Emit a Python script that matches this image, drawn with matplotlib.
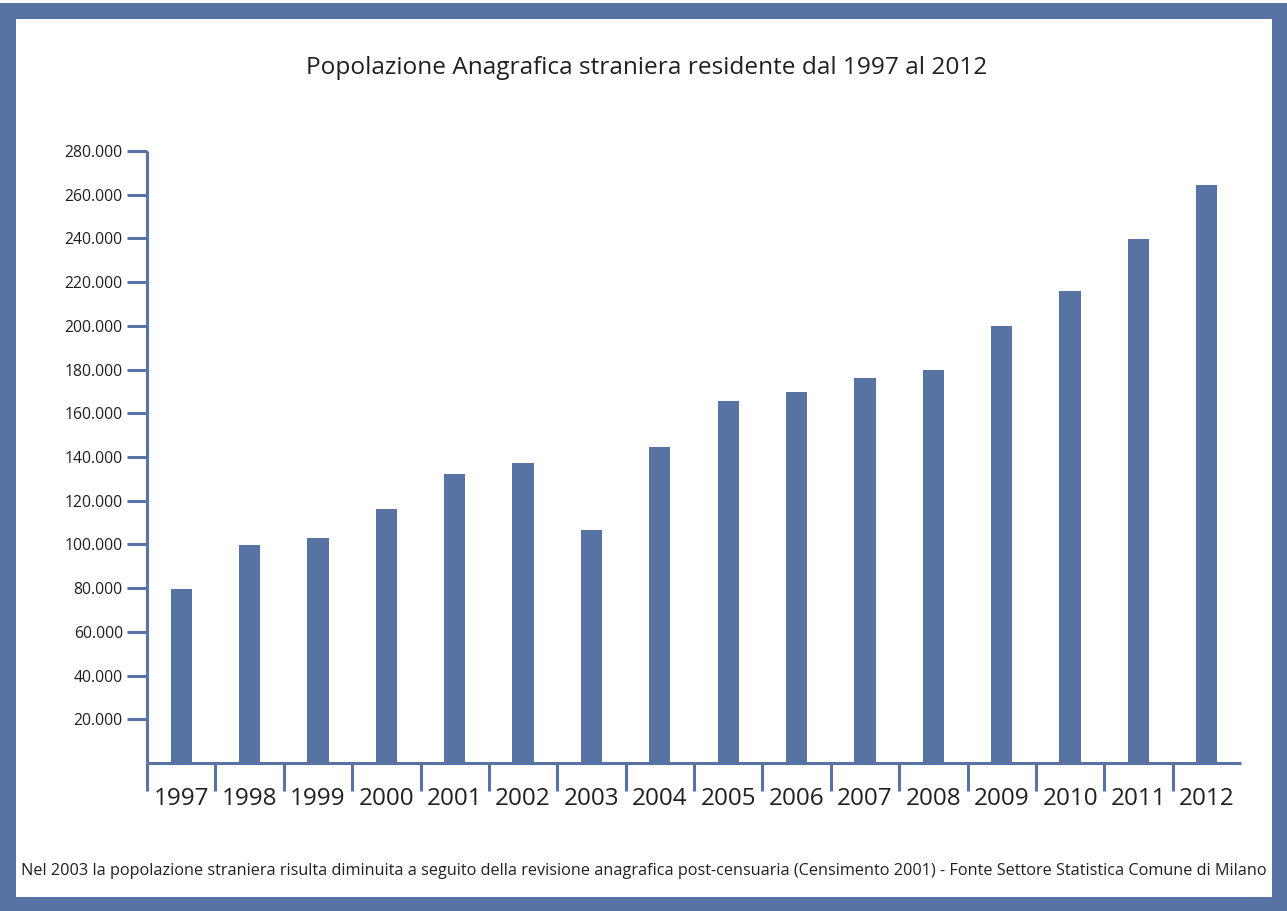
import numpy as np
import matplotlib.pyplot as plt
from matplotlib.patches import Rectangle
from matplotlib.ticker import FixedLocator, FuncFormatter

# Data
years = ['1997', '1998', '1999', '2000', '2001', '2002', '2003', '2004',
         '2005', '2006', '2007', '2008', '2009', '2010', '2011', '2012']
population = [79500, 99600, 102800, 116300, 132400, 137300, 106700, 144700,
              165700, 169900, 176300, 179800, 199800, 215800, 239900, 264400]
y_ticks = list(range(20000, 280001, 20000))

title = 'Popolazione Anagrafica straniera residente dal 1997 al 2012'
note = ('Nel 2003 la popolazione straniera risulta diminuita a seguito della revisione '
        'anagrafica post-censuaria (Censimento 2001) - Fonte Settore Statistica Comune di Milano')

blue = '#5773a3'
text_color = '#231f20'
plt.rcParams['font.family'] = ['Open Sans', 'DejaVu Sans']

W, H = 1287, 911
fig = plt.figure(figsize=(W / 100, H / 100), dpi=100, facecolor='white')

# blue frame around the whole picture
fig.patches.append(Rectangle((0, 0), 1, 1 - 3 / H, transform=fig.transFigure,
                             facecolor=blue, edgecolor='none', zorder=-10))
fig.patches.append(Rectangle((16 / W, (911 - 897) / H), (1272 - 16) / W, (897 - 19) / H,
                             transform=fig.transFigure, facecolor='white',
                             edgecolor='none', zorder=-9))

# axes: left spine at x=147, top at y=151 (280.000), baseline at y=763
left, right, top, bottom = 147, 1241, 151, 763
ax = fig.add_axes([left / W, 1 - bottom / H, (right - left) / W, (bottom - top) / H])
ax.set_facecolor('none')

x = np.arange(len(years))
ax.bar(x, population, width=0.31, color=blue, zorder=2)

ax.set_xlim(-0.5, len(years) - 0.5)
ax.set_ylim(0, 280000)

for side in ['top', 'right']:
    ax.spines[side].set_visible(False)
for side in ['left', 'bottom']:
    ax.spines[side].set_color(blue)
    ax.spines[side].set_linewidth(2.2)
    ax.spines[side].set_capstyle('butt')

# y axis ticks
ax.yaxis.set_major_locator(FixedLocator(y_ticks))
ax.yaxis.set_major_formatter(FuncFormatter(lambda v, p: f'{int(v):,}'.replace(',', '.')))
ax.tick_params(axis='y', direction='out', length=14.4, width=2.2, color=blue,
               labelsize=11.3, labelcolor=text_color, pad=3)

# x axis: separator ticks between years, labels centered under bars
ax.set_xticks(x)
ax.set_xticklabels(years)
ax.xaxis.set_minor_locator(FixedLocator(x - 0.5))
ax.tick_params(axis='x', which='major', length=0, labelsize=17.5,
               labelcolor=text_color, pad=17)
ax.tick_params(axis='x', which='minor', direction='out', length=20.5, width=2.2, color=blue)

# title and footnote, scaled to the widths seen in the reference
t = fig.text(647 / W, 1 - 68 / H, title, ha='center', va='center',
             fontsize=16, color=text_color)
n = fig.text(644 / W, 1 - 871 / H, note, ha='center', va='center',
             fontsize=11, color=text_color)
fig.canvas.draw()
r = fig.canvas.get_renderer()
t.set_fontsize(16 * 680 / t.get_window_extent(r).width)
n.set_fontsize(11 * 1250 / n.get_window_extent(r).width)

fig.savefig('out.png', dpi=100, facecolor=fig.get_facecolor())
